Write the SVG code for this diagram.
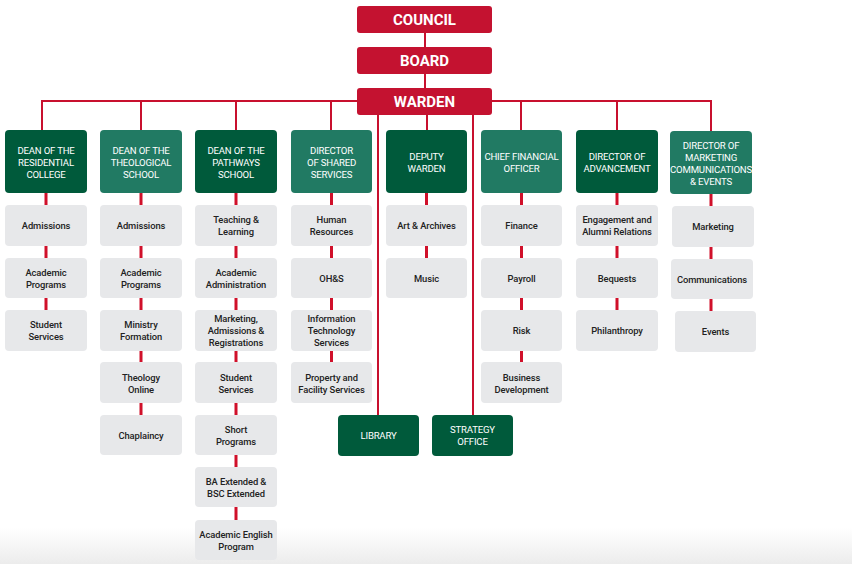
<svg xmlns="http://www.w3.org/2000/svg" width="852" height="564" viewBox="0 0 852 564">
<defs>
<linearGradient id="bg" x1="0" y1="0" x2="0" y2="1">
<stop offset="0" stop-color="#ffffff"/>
<stop offset="1" stop-color="#ececec"/>
</linearGradient>
</defs>
<style>
.top{fill:#C41230}
.toptxt{fill:#fff;font-family:Roboto,"Liberation Sans",sans-serif;font-weight:bold;font-size:15px;text-anchor:middle}
.dk{fill:#005A3B}
.lt{fill:#217A63}
.hd{fill:#fff;font-family:Roboto,"Liberation Sans",sans-serif;font-size:9.6px;letter-spacing:-0.2px;text-anchor:middle}
.sub{fill:#E7E8EA}
.st{fill:#222;font-family:Roboto,"Liberation Sans",sans-serif;font-weight:500;font-size:9.4px;letter-spacing:-0.1px;text-anchor:middle}
.trunk{stroke:#C8102E;stroke-width:2;fill:none}
.link{stroke:#D0102A;stroke-width:3;fill:none}
</style>
<rect x="0" y="0" width="852" height="564" fill="#fff"/>
<rect x="0" y="528" width="852" height="36" fill="url(#bg)"/>

<g id="connectors">
<path class="trunk" d="M425 33V47M425 74V88M42 101H712M42 100V130M141 100V130M236 100V130M331 100V130M427 115V130M521 100V130M617 100V130M711 100V131M378 100V415M473 100V415"/>
<path class="link" d="M46 193V205M46 246V258M46 298V310
M141 193V205M141 246V258M141 298V310M141 351V362M141 403V415
M236 193V205M236 246V258M236 298V310M236 351V362M236 403V415M236 455V467M236 507V520
M331.5 193V205M331.5 246V258M331.5 298V310M331.5 351V362
M426.5 193V205M426.5 246V258
M521.5 193V205M521.5 246V258M521.5 298V310M521.5 351V362
M617 193V205M617 246V258M617 298V310
M711 194V206M711 247V259M711 299V311"/>
</g>

<g id="council"><rect class="top" x="357" y="6" width="135" height="27" rx="3"/><text class="toptxt" x="424.5" y="25">COUNCIL</text></g>
<g id="board"><rect class="top" x="357" y="47" width="135" height="27" rx="3"/><text class="toptxt" x="424.5" y="66">BOARD</text></g>
<g id="warden"><rect class="top" x="357" y="88" width="135" height="27" rx="3"/><text class="toptxt" x="424.5" y="107">WARDEN</text></g>

<g id="dean-residential"><rect class="dk" x="5" y="130" width="82" height="63" rx="4"/><text class="hd" x="46"><tspan x="46" y="154">DEAN OF THE</tspan><tspan x="46" y="166">RESIDENTIAL</tspan><tspan x="46" y="178">COLLEGE</tspan></text></g>
<g id="rc-admissions"><rect class="sub" x="5" y="205" width="82" height="41" rx="4"/><text class="st" x="46" y="229">Admissions</text></g>
<g id="rc-academic"><rect class="sub" x="5" y="258" width="82" height="40" rx="4"/><text class="st"><tspan x="46" y="275.5">Academic</tspan><tspan x="46" y="287.5">Programs</tspan></text></g>
<g id="rc-student"><rect class="sub" x="5" y="310" width="82" height="41" rx="4"/><text class="st"><tspan x="46" y="328">Student</tspan><tspan x="46" y="340">Services</tspan></text></g>

<g id="dean-theological"><rect class="lt" x="100" y="130" width="82" height="63" rx="4"/><text class="hd"><tspan x="141" y="154">DEAN OF THE</tspan><tspan x="141" y="166">THEOLOGICAL</tspan><tspan x="141" y="178">SCHOOL</tspan></text></g>
<g id="ts-admissions"><rect class="sub" x="100" y="205" width="82" height="41" rx="4"/><text class="st" x="141" y="229">Admissions</text></g>
<g id="ts-academic"><rect class="sub" x="100" y="258" width="82" height="40" rx="4"/><text class="st"><tspan x="141" y="275.5">Academic</tspan><tspan x="141" y="287.5">Programs</tspan></text></g>
<g id="ts-ministry"><rect class="sub" x="100" y="310" width="82" height="41" rx="4"/><text class="st"><tspan x="141" y="328">Ministry</tspan><tspan x="141" y="340">Formation</tspan></text></g>
<g id="ts-theology"><rect class="sub" x="100" y="362" width="82" height="41" rx="4"/><text class="st"><tspan x="141" y="380.5">Theology</tspan><tspan x="141" y="392.5">Online</tspan></text></g>
<g id="ts-chaplaincy"><rect class="sub" x="100" y="415" width="82" height="40" rx="4"/><text class="st" x="141" y="439">Chaplaincy</text></g>

<g id="dean-pathways"><rect class="dk" x="195" y="130" width="82" height="63" rx="4"/><text class="hd"><tspan x="236" y="154">DEAN OF THE</tspan><tspan x="236" y="166">PATHWAYS</tspan><tspan x="236" y="178">SCHOOL</tspan></text></g>
<g id="ps-teaching"><rect class="sub" x="195" y="205" width="82" height="41" rx="4"/><text class="st"><tspan x="236" y="223">Teaching &amp;</tspan><tspan x="236" y="235">Learning</tspan></text></g>
<g id="ps-academic"><rect class="sub" x="195" y="258" width="82" height="40" rx="4"/><text class="st"><tspan x="236" y="275.5">Academic</tspan><tspan x="236" y="287.5">Administration</tspan></text></g>
<g id="ps-marketing"><rect class="sub" x="195" y="310" width="82" height="41" rx="4"/><text class="st"><tspan x="236" y="322">Marketing,</tspan><tspan x="236" y="334">Admissions &amp;</tspan><tspan x="236" y="346">Registrations</tspan></text></g>
<g id="ps-student"><rect class="sub" x="195" y="362" width="82" height="41" rx="4"/><text class="st"><tspan x="236" y="380.5">Student</tspan><tspan x="236" y="392.5">Services</tspan></text></g>
<g id="ps-short"><rect class="sub" x="195" y="415" width="82" height="40" rx="4"/><text class="st"><tspan x="236" y="433">Short</tspan><tspan x="236" y="445">Programs</tspan></text></g>
<g id="ps-ba"><rect class="sub" x="195" y="467" width="82" height="40" rx="4"/><text class="st"><tspan x="236" y="485">BA Extended &amp;</tspan><tspan x="236" y="497">BSC Extended</tspan></text></g>
<g id="ps-english"><rect class="sub" x="195" y="520" width="82" height="40" rx="4"/><text class="st"><tspan x="236" y="538">Academic English</tspan><tspan x="236" y="550">Program</tspan></text></g>

<g id="director-shared"><rect class="lt" x="291" y="130" width="81" height="63" rx="4"/><text class="hd"><tspan x="331.5" y="154">DIRECTOR</tspan><tspan x="331.5" y="166">OF SHARED</tspan><tspan x="331.5" y="178">SERVICES</tspan></text></g>
<g id="ss-hr"><rect class="sub" x="291" y="205" width="81" height="41" rx="4"/><text class="st"><tspan x="331.5" y="223">Human</tspan><tspan x="331.5" y="235">Resources</tspan></text></g>
<g id="ss-ohs"><rect class="sub" x="291" y="258" width="81" height="40" rx="4"/><text class="st" x="331.5" y="281.5">OH&amp;S</text></g>
<g id="ss-it"><rect class="sub" x="291" y="310" width="81" height="41" rx="4"/><text class="st"><tspan x="331.5" y="322">Information</tspan><tspan x="331.5" y="334">Technology</tspan><tspan x="331.5" y="346">Services</tspan></text></g>
<g id="ss-property"><rect class="sub" x="291" y="362" width="81" height="41" rx="4"/><text class="st"><tspan x="331.5" y="380.5">Property and</tspan><tspan x="331.5" y="392.5">Facility Services</tspan></text></g>

<g id="deputy-warden"><rect class="dk" x="386" y="130" width="81" height="63" rx="4"/><text class="hd"><tspan x="426.5" y="160">DEPUTY</tspan><tspan x="426.5" y="172">WARDEN</tspan></text></g>
<g id="dw-art"><rect class="sub" x="386" y="205" width="81" height="41" rx="4"/><text class="st" x="426.5" y="229">Art &amp; Archives</text></g>
<g id="dw-music"><rect class="sub" x="386" y="258" width="81" height="40" rx="4"/><text class="st" x="426.5" y="281.5">Music</text></g>

<g id="cfo"><rect class="lt" x="481" y="130" width="81" height="63" rx="4"/><text class="hd"><tspan x="521.5" y="160">CHIEF FINANCIAL</tspan><tspan x="521.5" y="172">OFFICER</tspan></text></g>
<g id="cfo-finance"><rect class="sub" x="481" y="205" width="81" height="41" rx="4"/><text class="st" x="521.5" y="229">Finance</text></g>
<g id="cfo-payroll"><rect class="sub" x="481" y="258" width="81" height="40" rx="4"/><text class="st" x="521.5" y="281.5">Payroll</text></g>
<g id="cfo-risk"><rect class="sub" x="481" y="310" width="81" height="41" rx="4"/><text class="st" x="521.5" y="334">Risk</text></g>
<g id="cfo-business"><rect class="sub" x="481" y="362" width="81" height="41" rx="4"/><text class="st"><tspan x="521.5" y="380.5">Business</tspan><tspan x="521.5" y="392.5">Development</tspan></text></g>

<g id="director-advancement"><rect class="dk" x="576" y="130" width="82" height="63" rx="4"/><text class="hd"><tspan x="617" y="160">DIRECTOR OF</tspan><tspan x="617" y="172">ADVANCEMENT</tspan></text></g>
<g id="adv-engagement"><rect class="sub" x="576" y="205" width="82" height="41" rx="4"/><text class="st"><tspan x="617" y="223">Engagement and</tspan><tspan x="617" y="235">Alumni Relations</tspan></text></g>
<g id="adv-bequests"><rect class="sub" x="576" y="258" width="82" height="40" rx="4"/><text class="st" x="617" y="281.5">Bequests</text></g>
<g id="adv-philanthropy"><rect class="sub" x="576" y="310" width="82" height="41" rx="4"/><text class="st" x="617" y="334">Philanthropy</text></g>

<g id="director-marketing"><rect class="lt" x="670" y="131" width="82" height="63" rx="4"/><text class="hd"><tspan x="711" y="148.5">DIRECTOR OF</tspan><tspan x="711" y="160.8">MARKETING</tspan><tspan x="711" y="173">COMMUNICATIONS</tspan><tspan x="711" y="185.3">&amp; EVENTS</tspan></text></g>
<g id="mk-marketing"><rect class="sub" x="672" y="206" width="82" height="41" rx="4"/><text class="st" x="713" y="230">Marketing</text></g>
<g id="mk-communications"><rect class="sub" x="671" y="259" width="82" height="40" rx="4"/><text class="st" x="712" y="282.5">Communications</text></g>
<g id="mk-events"><rect class="sub" x="675" y="311" width="81" height="41" rx="4"/><text class="st" x="715.5" y="335">Events</text></g>

<g id="library"><rect class="dk" x="338" y="415" width="81" height="41" rx="4"/><text class="hd" x="378.5" y="439">LIBRARY</text></g>
<g id="strategy-office"><rect class="dk" x="432" y="415" width="81" height="41" rx="4"/><text class="hd"><tspan x="472.5" y="433">STRATEGY</tspan><tspan x="472.5" y="445">OFFICE</tspan></text></g>
</svg>
